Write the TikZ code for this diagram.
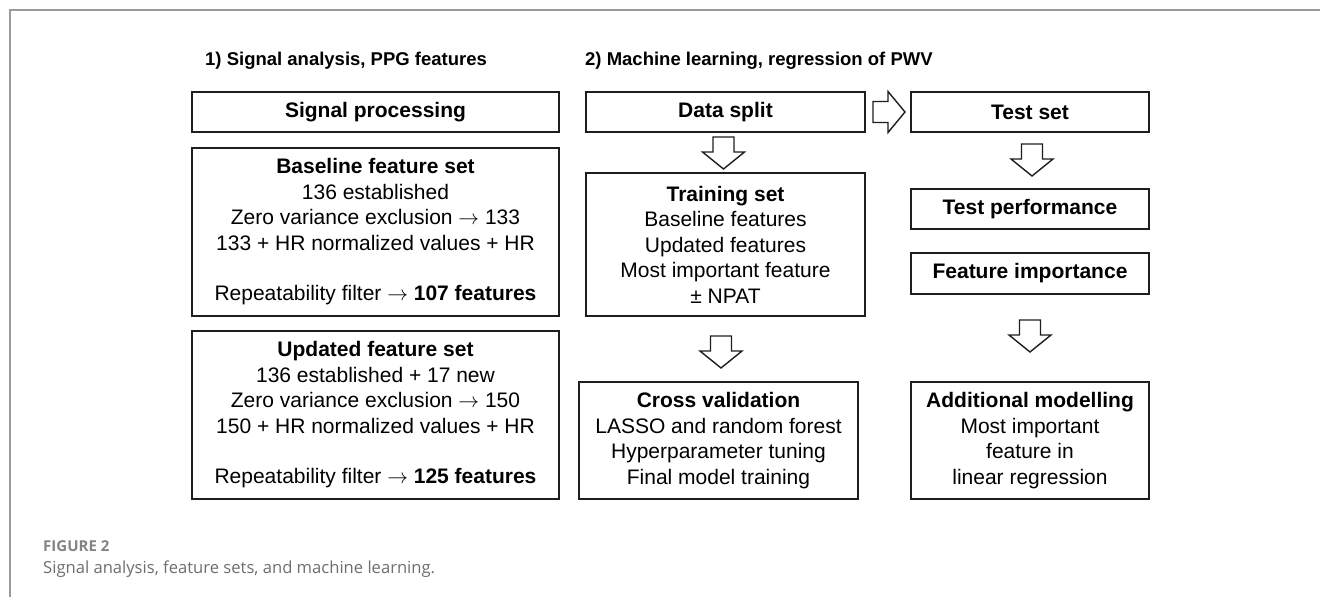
\documentclass[tikz,border=0pt]{standalone}
\usepackage{fontspec}
\setmainfont{Liberation Sans}
\newfontfamily\capfont{Open Sans}
\usetikzlibrary{calc}
\definecolor{frame}{HTML}{9A9A9A}
\definecolor{capgray}{HTML}{6E6E6E}
\definecolor{boxline}{HTML}{1E1E1E}
\newcommand{\toarrow}{\ \(\rightarrow\)\ }
\tikzset{
  box/.style={draw=boxline, line width=2pt, rectangle, inner sep=0pt,
    align=center, font=\fontsize{21}{25.5}\selectfont},
  heading/.style={anchor=base west, inner sep=0pt,
    font=\fontsize{18.5}{22}\selectfont\bfseries},
  blockarrow/.style={draw=boxline, line width=1.4pt, fill=white, line join=miter},
  downarrow/.pic={
    \draw[blockarrow] (-10.5,0) -- (10.5,0) -- (10.5,15) -- (21,15) -- (0,32)
      -- (-21,15) -- (-10.5,15) -- cycle;},
  rightarrow/.pic={
    \draw[blockarrow] (0,-10.5) -- (0,10.5) -- (15,10.5) -- (15,20.5) -- (32,0)
      -- (15,-20.5) -- (15,-10.5) -- cycle;}
}
\begin{document}
\begin{tikzpicture}[x=1pt, y=-1pt]
\useasboundingbox (0,0) rectangle (1320,597);
\fill[white] (0,0) rectangle (1320,597);
% outer frame
\draw[frame, line width=2pt] (10,597) -- (10,10) -- (1320,10);

% column headings
\node[heading] (h1) at (205,65.5) {1) Signal analysis, PPG features};
\node[heading] (h2) at (585,65.5) {2) Machine learning, regression of PWV};

% left column: feature sets
\node[box, minimum width=367pt, minimum height=40pt] (sig) at (375.5,112)
  {\bfseries Signal processing};
\node[box, minimum width=367pt, minimum height=168pt] (base) at (375.5,232)
  {\textbf{Baseline feature set}\\
   136 established\\
   Zero variance exclusion\toarrow 133\\
   133 + HR normalized values + HR\\[25pt]
   Repeatability filter\toarrow\textbf{107 features}};
\node[box, minimum width=367pt, minimum height=168pt] (upd) at (375.5,415)
  {\textbf{Updated feature set}\\
   136 established + 17 new\\
   Zero variance exclusion\toarrow 150\\
   150 + HR normalized values + HR\\[25pt]
   Repeatability filter\toarrow\textbf{125 features}};

% middle column: training
\node[box, minimum width=279pt, minimum height=40pt] (split) at (725.5,112)
  {\bfseries Data split};
\node[box, minimum width=279pt, minimum height=143pt] (train) at (725.5,244.5)
  {\textbf{Training set}\\
   Baseline features\\
   Updated features\\
   Most important feature\\
   ± NPAT};
\node[box, minimum width=279pt, minimum height=117pt] (cv) at (718.5,440.5)
  {\textbf{Cross validation}\\
   LASSO and random forest\\
   Hyperparameter tuning\\
   Final model training};

% right column: testing
\node[box, minimum width=238pt, minimum height=40pt] (test) at (1030,112)
  {\bfseries Test set};
\node[box, minimum width=238pt, minimum height=40pt] (perf) at (1030,209)
  {\bfseries Test performance};
\node[box, minimum width=238pt, minimum height=41pt] (imp) at (1030,273.5)
  {\bfseries Feature importance};
\node[box, minimum width=238pt, minimum height=117pt] (add) at (1030,440.5)
  {\textbf{Additional modelling}\\
   Most important\\
   feature in\\
   linear regression};

% block arrows
\pic at ($(split.south)+(-2,4)$) {downarrow};
\pic at ($(train.south)+(-4.5,19)$) {downarrow};
\pic at ($(test.south)+(2,11)$) {downarrow};
\pic at ($(imp.south)+(0,25)$) {downarrow};
\pic at ($(split.east)+(7,0)$) {rightarrow};

% caption
\node[anchor=base west, inner sep=0pt, text=capgray!85,
  font=\capfont\fontsize{15}{18}\selectfont\bfseries] (fig) at (43,551) {FIGURE 2};
\node[anchor=base west, inner sep=0pt, text=capgray,
  font=\capfont\fontsize{16.6}{20}\selectfont] (cap) at (43,573)
  {Signal analysis, feature sets, and machine learning.};
\end{tikzpicture}
\end{document}
